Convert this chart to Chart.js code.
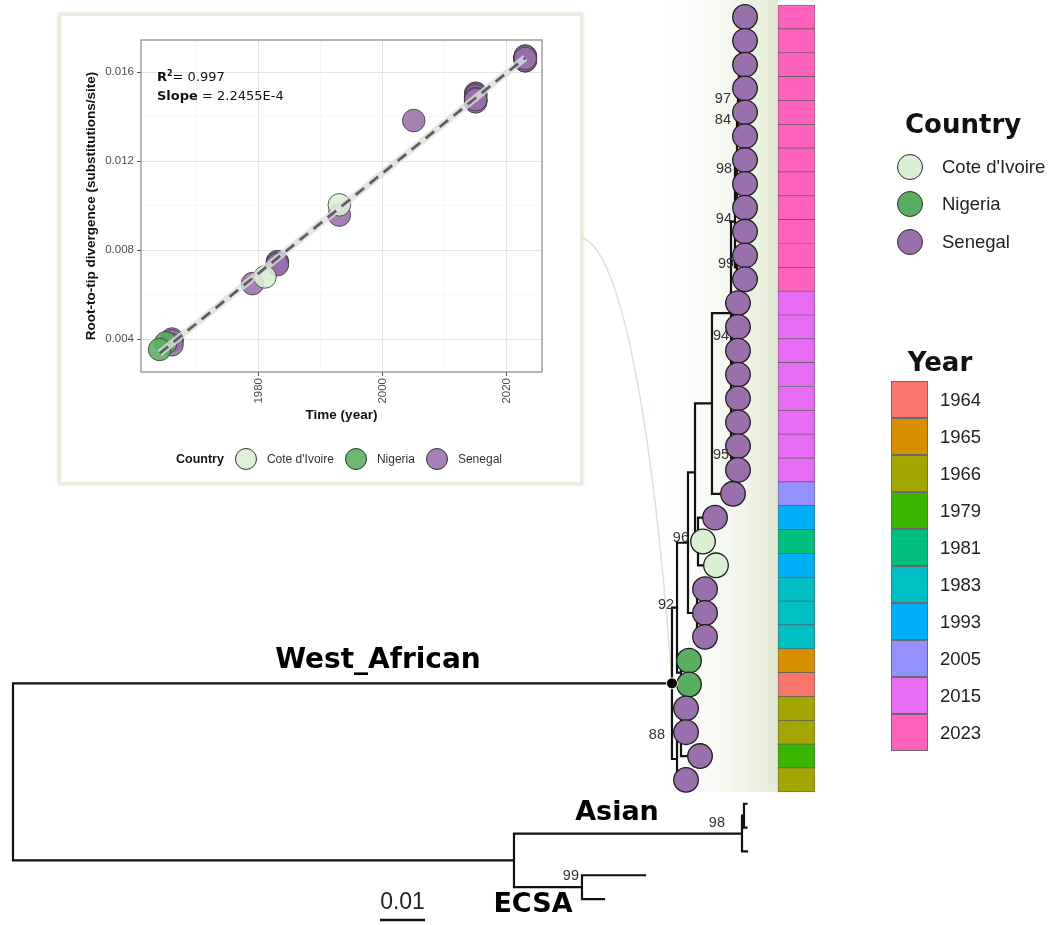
<!DOCTYPE html>
<html>
<head>
<meta charset="utf-8">
<script src="https://cdn.jsdelivr.net/npm/chart.js@4.4.1/dist/chart.umd.min.js"></script>
<style>
  html, body { margin: 0; padding: 0; background: #fff; }
  #page { position: relative; width: 1057px; height: 925px; overflow: hidden; font-family: "Liberation Sans", Arial, sans-serif; }
  #tree { position: absolute; left: 0; top: 0; }
  #inset { position: absolute; left: 58px; top: 13px; width: 519px; height: 466px; border: 3px solid #e8ecdc; background: #fff; box-shadow: 0 0 3px rgba(150, 170, 120, .35); }
  #rtt { position: absolute; left: 0; top: 0; }
  #fit { position: absolute; left: 96px; top: 52px; font: 13px "DejaVu Sans", sans-serif; line-height: 18.5px; color: #111; }
  #fit sup { font-size: 8px; line-height: 0; }
  #insetLegend { position: absolute; left: 115px; top: 432px; height: 22px; display: flex; align-items: center; font-size: 12px; color: #333; }
  #insetLegend .ttl { font-weight: bold; font-size: 12.5px; color: #111; margin-right: 11px; }
  #insetLegend .dot { width: 22px; height: 22px; border-radius: 50%; border: 0.8px solid #333; box-sizing: border-box; margin-right: 10px; }
  #insetLegend .lab { margin-right: 11px; }
  #countryLegend { position: absolute; left: 897px; top: 109px; }
  #countryLegend .ttl { font: bold 26px "DejaVu Sans", sans-serif; line-height: 30px; margin-left: 8px; margin-bottom: 9px; color: #111; }
  #countryLegend .row { display: flex; align-items: center; height: 37.5px; }
  #countryLegend .dot { width: 26px; height: 26px; border-radius: 50%; border: 1.5px solid #2a2a2a; box-sizing: border-box; margin-right: 19px; }
  #countryLegend .lab { font-size: 18.5px; color: #222; }
  #yearLegend { position: absolute; left: 891px; top: 347px; }
  #yearLegend .ttl { font: bold 26px "DejaVu Sans", sans-serif; line-height: 30px; width: 100px; text-align: center; margin-left: -1px; margin-bottom: 4px; color: #111; }
  #yearLegend .row { display: flex; align-items: center; height: 37.1px; }
  #yearLegend .box { width: 37px; height: 37.1px; box-sizing: border-box; border: 1px solid #6a6a6a; margin-top: -1px; margin-right: 12px; }
  #yearLegend .lab { font-size: 18.5px; color: #222; }
</style>
</head>
<body>
<div id="page">
  <canvas id="tree" width="1057" height="925"></canvas>
  <div id="inset">
    <canvas id="rtt" width="519" height="407"></canvas>
    <div id="fit"><b>R<sup>2</sup></b>= 0.997<br><b>Slope</b> = 2.2455E-4</div>
    <div id="insetLegend"></div>
  </div>
  <div id="countryLegend"></div>
  <div id="yearLegend"></div>
</div>
<script>
// ---- tips, top to bottom (1-33 West African, 34-36 Asian, 37-38 ECSA) ----
const tipParent = [
  'Na', 'Na', 'Nb', 'Nc', 'N97', 'N84', 'N98', 'N98', 'N98', 'N94', 'N99', 'N99',
  'N94b', 'N94b', 'N94b', 'N94b', 'S', 'S', 'N95', 'N95', 'P',
  'N96', 'N96', 'N96', 'D83', 'D83', 'D83', 'NG', 'NG', 'H', 'H', 'G', 'F',
  'ASIAs', 'ASIAs', 'ASIA', 'ECSA', 'ECSA'
];
// root-to-tip distance in the tree (substitutions/site)
const tipDiv = [
  0.16267, 0.16267, 0.16267, 0.16267, 0.16267, 0.16267, 0.16267, 0.16267, 0.16267, 0.16267, 0.16267, 0.16267,
  0.16111, 0.16111, 0.16111, 0.16111, 0.16111, 0.16111, 0.16111, 0.16111, 0.16000,
  0.15600, 0.15333, 0.15622, 0.15378, 0.15378, 0.15378, 0.15022, 0.15022, 0.14956, 0.14956, 0.15267, 0.14956,
  0.16300, 0.16300, 0.16311, 0.14044, 0.13133
];
const tipCountry = [
  'Senegal', 'Senegal', 'Senegal', 'Senegal', 'Senegal', 'Senegal', 'Senegal', 'Senegal', 'Senegal', 'Senegal', 'Senegal', 'Senegal',
  'Senegal', 'Senegal', 'Senegal', 'Senegal', 'Senegal', 'Senegal', 'Senegal', 'Senegal', 'Senegal',
  'Senegal', "Cote d'Ivoire", "Cote d'Ivoire", 'Senegal', 'Senegal', 'Senegal', 'Nigeria', 'Nigeria',
  'Senegal', 'Senegal', 'Senegal', 'Senegal'
];
const tipYear = [
  2023, 2023, 2023, 2023, 2023, 2023, 2023, 2023, 2023, 2023, 2023, 2023,
  2015, 2015, 2015, 2015, 2015, 2015, 2015, 2015, 2005,
  1993, 1981, 1993, 1983, 1983, 1983, 1965, 1964, 1966, 1966, 1979, 1966
];
// root-to-tip divergence used in the temporal signal inset
const rttDiv = [
  0.01668, 0.01664, 0.01672, 0.01660, 0.01655, 0.01663, 0.01650, 0.01658, 0.01665, 0.01670, 0.01652, 0.01661,
  0.01505, 0.01499, 0.01492, 0.01473, 0.01468, 0.01481, 0.01466, 0.01476, 0.01382,
  0.00957, 0.00679, 0.01003, 0.00748, 0.00741, 0.00734, 0.00383, 0.00353, 0.00400, 0.00392, 0.00649, 0.00374
];

// ---- internal nodes ----
const nodeName   = ['root', 'WA', 'AE', 'ASIA', 'ASIAs', 'ECSA', 'E', 'NG', 'C', 'D83', 'B', 'N96', 'P', 'R', 'S', 'N94b', 'N95', 'N94', 'N98', 'N84', 'N97', 'Nc', 'Nb', 'Na', 'N99', 'F', 'G', 'H'];
const nodeParent = [null, 'root', 'root', 'AE', 'ASIA', 'AE', 'WA', 'E', 'E', 'C', 'C', 'B', 'B', 'P', 'R', 'S', 'S', 'R', 'N94', 'N98', 'N84', 'N97', 'Nc', 'Nb', 'N94', 'WA', 'F', 'G'];
const nodeDiv    = [0, 0.14644, 0.11133, 0.16200, 0.16244, 0.12644, 0.14756, 0.14844, 0.15000, 0.15200, 0.15156, 0.15222, 0.15533, 0.15956, 0.15956, 0.15978, 0.15978, 0.16044, 0.16089, 0.16111, 0.16133, 0.16156, 0.16178, 0.16200, 0.16089, 0.14756, 0.14844, 0.14889];
const nodeSupport = [null, null, null, 98, null, 99, 92, null, null, null, null, 96, null, null, null, 94, 95, 94, 98, 84, 97, null, null, null, 99, null, 88, null];

const cladeLabels = [['WA', 'West_African'], ['ASIA', 'Asian'], ['ECSA', 'ECSA']];
const scaleBarLength = 0.01;

const countryNames = ["Cote d'Ivoire", 'Nigeria', 'Senegal'];
const countryColors = ['#d9f0d3', '#5aae61', '#9970ab'];
const yearLevels = [1964, 1965, 1966, 1979, 1981, 1983, 1993, 2005, 2015, 2023];
const yearColors = ['#F8766D', '#D89000', '#A3A500', '#39B600', '#00BF7D', '#00BFC4', '#00B0F6', '#9590FF', '#E76BF3', '#FF62BC'];

// ---- layout constants ----
const STRIP_FROM = 0.1700, STRIP_TO = 0.1782;
const LABEL_OFFSET = { WA: [-294, -23], ASIA: [-125, -21], ECSA: [-49, 18] };
// small nudges so support values sit where the figure has them
const SUPPORT_NUDGE = { N96: [-6, 0], G: [-13, 0], ASIA: [-14, -8], ECSA: [0, -8], N97: [-5, 12], N84: [-4, 10], N98: [-2, 6] };
const SANS = '"Liberation Sans", Arial, sans-serif';

const colorOfCountry = c => countryColors[countryNames.indexOf(c)];
const colorOfYear = y => yearColors[yearLevels.indexOf(y)];
const divOf = Object.fromEntries(nodeName.map((n, i) => [n, nodeDiv[i]]));
const nWA = tipCountry.length;

// node heights: mean of the children (as ggtree does)
function childYs(name) {
  const ys = [];
  tipParent.forEach((p, i) => { if (p === name) ys.push(i + 1); });
  nodeName.forEach((n, j) => { if (nodeParent[j] === name) ys.push(nodeY(n)); });
  return ys;
}
const yCache = {};
function nodeY(name) {
  if (yCache[name] === undefined) {
    const ys = childYs(name);
    yCache[name] = ys.reduce((a, b) => a + b, 0) / ys.length;
  }
  return yCache[name];
}

// branches as line pieces separated by gaps
const branches = [];
const gap = () => ({ x: NaN, y: NaN });
nodeName.forEach((n, j) => {
  const y = nodeY(n);
  if (nodeParent[j]) branches.push({ x: divOf[nodeParent[j]], y }, { x: nodeDiv[j], y }, gap());
  const ys = childYs(n);
  branches.push({ x: nodeDiv[j], y: Math.min(...ys) }, { x: nodeDiv[j], y: Math.max(...ys) }, gap());
});
tipParent.forEach((p, i) => branches.push({ x: divOf[p], y: i + 1 }, { x: tipDiv[i], y: i + 1 }, gap()));

const treeDecor = {
  id: 'treeDecor',
  beforeDatasetsDraw(chart) {
    const { ctx, scales: { x, y } } = chart;
    const wx = x.getPixelForValue(divOf.WA), wy = y.getPixelForValue(nodeY('WA'));
    const left = x.getPixelForValue(divOf.WA - 0.004), right = x.getPixelForValue(STRIP_FROM);
    const top = y.getPixelForValue(0.25), bottom = y.getPixelForValue(nWA + 0.5);
    const g = ctx.createLinearGradient(left, 0, right, 0);
    g.addColorStop(0, 'rgba(255,255,255,0)');
    g.addColorStop(1, '#e2e9d4');
    ctx.save();
    ctx.fillStyle = g;
    ctx.fillRect(left, top, right - left, bottom - top);
    ctx.strokeStyle = '#dfe6cf';
    ctx.lineWidth = 1.6;
    ctx.beginPath();
    ctx.moveTo(583, 238);
    ctx.bezierCurveTo(625, 255, 655, 450, wx, wy);
    ctx.stroke();
    ctx.restore();
  },
  afterDatasetsDraw(chart) {
    const { ctx, scales: { x, y } } = chart;
    ctx.save();
    // bootstrap support
    ctx.font = '14.5px ' + SANS;
    ctx.fillStyle = '#333';
    ctx.textAlign = 'right';
    ctx.textBaseline = 'middle';
    nodeName.forEach((n, j) => {
      if (nodeSupport[j] == null) return;
      const [dx, dy] = SUPPORT_NUDGE[n] || [0, 0];
      ctx.fillText(String(nodeSupport[j]), x.getPixelForValue(nodeDiv[j]) - 3 + dx, y.getPixelForValue(nodeY(n)) - 3 + dy);
    });
    // clade names
    ctx.fillStyle = '#000';
    ctx.textAlign = 'center';
    cladeLabels.forEach(([n, text]) => {
      const [dx, dy] = LABEL_OFFSET[n];
      ctx.font = 'bold ' + (n === 'WA' ? 28 : 27) + 'px "DejaVu Sans", sans-serif';
      ctx.fillText(text, x.getPixelForValue(divOf[n]) + dx, y.getPixelForValue(nodeY(n)) + dy);
    });
    // scale bar value
    const sb = chart.data.datasets.find(d => d.label === 'scale').data;
    ctx.font = '23px ' + SANS;
    ctx.fillStyle = '#222';
    ctx.fillText(String(scaleBarLength), (x.getPixelForValue(sb[0].x) + x.getPixelForValue(sb[1].x)) / 2, y.getPixelForValue(sb[0].y) - 17);
    ctx.restore();
  }
};

new Chart(document.getElementById('tree'), {
  type: 'scatter',
  data: {
    datasets: [
      {
        label: 'root node', data: [{ x: divOf.WA, y: nodeY('WA') }],
        pointRadius: 5.5, pointBackgroundColor: '#000', pointBorderColor: '#fff', pointBorderWidth: 1, order: 0
      },
      {
        label: 'tips', data: tipCountry.map((c, i) => ({ x: tipDiv[i], y: i + 1 })),
        pointRadius: 12.3, pointBackgroundColor: tipCountry.map(colorOfCountry),
        pointBorderColor: '#1e1e1e', pointBorderWidth: 1.3, clip: false, order: 1
      },
      {
        label: 'branches', type: 'line', data: branches, borderColor: '#111', borderWidth: 2.2,
        pointRadius: 0, spanGaps: false, tension: 0, borderCapStyle: 'square', fill: false, order: 3
      },
      {
        label: 'scale', type: 'line', data: [{ x: 0.08156, y: 38.88 }, { x: 0.08156 + scaleBarLength, y: 38.88 }],
        borderColor: '#111', borderWidth: 2.6, pointRadius: 0, fill: false, order: 3
      },
      {
        label: 'year', type: 'bar', indexAxis: 'y',
        data: tipYear.map((yr, i) => ({ y: i + 1, x: [STRIP_FROM, STRIP_TO] })),
        backgroundColor: tipYear.map(colorOfYear), borderColor: '#5c5c5c', borderWidth: 0.7,
        borderSkipped: false, barPercentage: 1, categoryPercentage: 1, order: 4
      }
    ]
  },
  options: {
    responsive: false, animation: false, events: [],
    layout: { padding: 0, autoPadding: false },
    plugins: { legend: { display: false }, tooltip: { enabled: false } },
    scales: {
      x: { type: 'linear', display: false, offset: false, beginAtZero: false, min: -0.0028889, max: 0.232 },
      y: { type: 'linear', display: false, offset: false, grid: { offset: false }, reverse: true, min: 0.2869, max: 39.087 }
    }
  },
  plugins: [treeDecor]
});

// ---- root-to-tip regression inset ----
function leastSquares(xs, ys) {
  const n = xs.length;
  const mx = xs.reduce((a, b) => a + b, 0) / n, my = ys.reduce((a, b) => a + b, 0) / n;
  let sxy = 0, sxx = 0;
  xs.forEach((xv, i) => { sxy += (xv - mx) * (ys[i] - my); sxx += (xv - mx) ** 2; });
  const slope = sxy / sxx;
  return { slope, intercept: my - slope * mx };
}
const fit = leastSquares(tipYear, rttDiv);
const yMin = Math.min(...tipYear), yMax = Math.max(...tipYear);
const fitLine = [yMin, yMax].map(t => ({ x: t, y: fit.intercept + fit.slope * t }));

const drawOrder = ['Senegal', "Cote d'Ivoire", 'Nigeria'];
const countrySets = drawOrder.map((c, k) => ({
  label: c,
  data: tipYear.map((t, i) => ({ x: t, y: rttDiv[i], c: tipCountry[i] })).filter(p => p.c === c),
  pointRadius: 11.3, pointBackgroundColor: colorOfCountry(c) + 'e0',
  pointBorderColor: '#333', pointBorderWidth: 0.8, order: 4 - k
}));

const panelBorder = {
  id: 'panelBorder',
  beforeDatasetsDraw(chart) {
    const { ctx, chartArea: a } = chart;
    ctx.save();
    ctx.strokeStyle = '#7a7a7a';
    ctx.lineWidth = 1.1;
    ctx.strokeRect(a.left, a.top, a.right - a.left, a.bottom - a.top);
    ctx.restore();
  }
};

const isMajorX = v => v % 20 === 0;
const isMajorY = v => Math.round(v * 1000) % 4 === 0;
const tickFont = { family: SANS, size: 11.5 };
const titleFont = { family: SANS, size: 13.5, weight: 'bold' };

new Chart(document.getElementById('rtt'), {
  type: 'scatter',
  data: {
    datasets: [
      { label: 'fit', type: 'line', data: fitLine, borderColor: '#5e5e5e', borderWidth: 2.8, borderDash: [11, 7], pointRadius: 0, order: 0 },
      { label: 'fit band', type: 'line', data: fitLine, borderColor: 'rgba(222,222,222,0.8)', borderWidth: 7, pointRadius: 0, order: 1 },
      ...countrySets
    ]
  },
  options: {
    responsive: false, animation: false, events: [],
    layout: { padding: { left: 22, top: 24, right: 38, bottom: 0 }, autoPadding: false },
    plugins: { legend: { display: false }, tooltip: { enabled: false } },
    scales: {
      x: {
        type: 'linear', min: 1961, max: 2025.7,
        ticks: {
          stepSize: 10, includeBounds: false, autoSkip: false, minRotation: 90, maxRotation: 90,
          padding: 2, color: '#4d4d4d', font: tickFont,
          callback: v => isMajorX(v) ? String(v) : ''
        },
        grid: {
          color: c => c.tick && isMajorX(c.tick.value) ? '#e4e4e4' : '#f1f1f1',
          lineWidth: c => c.tick && isMajorX(c.tick.value) ? 1 : 0.6,
          tickColor: c => c.tick && isMajorX(c.tick.value) ? '#555' : 'rgba(0,0,0,0)',
          tickLength: 4, tickWidth: 1
        },
        border: { display: false },
        title: { display: true, text: 'Time (year)', color: '#111', font: titleFont, padding: 0 },
        afterFit: s => { s.height = 51; }
      },
      y: {
        type: 'linear', min: 0.002517, max: 0.01744,
        ticks: {
          stepSize: 0.002, includeBounds: false, autoSkip: false, padding: 3, color: '#4d4d4d', font: tickFont,
          callback: v => isMajorY(v) ? (Math.round(v * 1000) / 1000).toFixed(3) : ''
        },
        grid: {
          color: c => c.tick && isMajorY(c.tick.value) ? '#e4e4e4' : '#f1f1f1',
          lineWidth: c => c.tick && isMajorY(c.tick.value) ? 1 : 0.6,
          tickColor: c => c.tick && isMajorY(c.tick.value) ? '#555' : 'rgba(0,0,0,0)',
          tickLength: 4, tickWidth: 1
        },
        border: { display: false },
        title: { display: true, text: 'Root-to-tip divergence (substitutions/site)', color: '#111', font: titleFont, padding: 0 },
        afterFit: s => { s.width = 58; }
      }
    }
  },
  plugins: [panelBorder]
});

// ---- legends ----
const insetLegend = document.getElementById('insetLegend');
insetLegend.innerHTML = '<span class="ttl">Country</span>' + countryNames.map((c, i) =>
  `<span class="dot" style="background:${countryColors[i]}e0"></span><span class="lab">${c}</span>`).join('');

document.getElementById('countryLegend').innerHTML = '<div class="ttl">Country</div>' + countryNames.map((c, i) =>
  `<div class="row"><span class="dot" style="background:${countryColors[i]}"></span><span class="lab">${c}</span></div>`).join('');

document.getElementById('yearLegend').innerHTML = '<div class="ttl">Year</div>' + yearLevels.map((y, i) =>
  `<div class="row"><span class="box" style="background:${yearColors[i]}"></span><span class="lab">${y}</span></div>`).join('');
</script>
</body>
</html>
